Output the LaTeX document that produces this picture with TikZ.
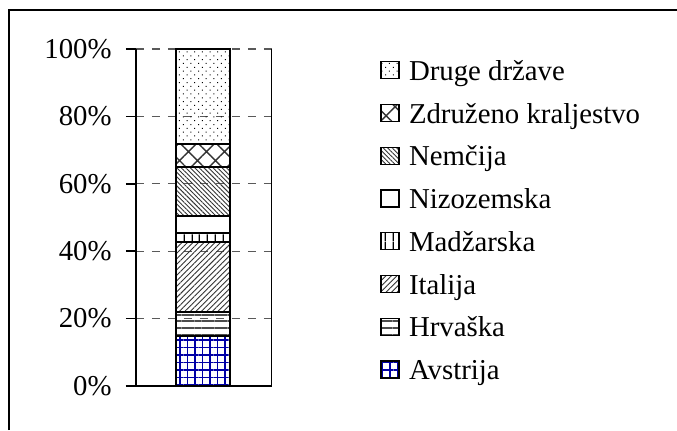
\documentclass[tikz,border=0pt]{standalone}
\usepackage{fontspec}
\setmainfont{Liberation Serif}
\usetikzlibrary{patterns.meta}

\begin{document}
\begin{tikzpicture}[x=0.5pt,y=-0.5pt,
  lbl/.style={font=\fontsize{14.4}{16}\selectfont,inner sep=0pt},
  seg/.style={draw=black,line width=0.9pt},
  key/.style={draw=black,line width=0.6pt,minimum width=9pt,minimum height=8.5pt,inner sep=0pt},
  gridline/.style={black!65,line width=0.55pt,dash pattern=on 4pt off 4pt},
  avstrija/.style={fill=blue!6,pattern={Hatch[angle=0,distance=3.75pt,line width=0.6pt]},pattern color=blue!65!black},
  hrvaska/.style={pattern={Lines[angle=0,distance=3.3pt,line width=0.9pt,yshift=1.6pt]},pattern color=black!70},
  italija/.style={pattern={Lines[angle=45,distance=1.95pt,line width=0.45pt]},pattern color=black!80},
  madzarska/.style={pattern={Lines[angle=90,distance=3.85pt,line width=0.7pt]},pattern color=black},
  nizozemska/.style={fill=white},
  nemcija/.style={pattern={Lines[angle=-45,distance=1.6pt,line width=0.45pt]},pattern color=black!80},
  zdruzeno/.style={pattern={Hatch[angle=45,distance=6.35pt,line width=0.7pt]},pattern color=black!80},
  druge/.style={pattern={Dots[angle=45,distance=2.7pt,radius=0.35pt]},pattern color=black}]
\useasboundingbox (0,0) rectangle (677,430);
% frame
\draw[line width=1pt] (9,430) -- (9,9.5) -- (677,9.5);
% grid and axes
\foreach \v in {20,40,...,100}
  \draw[gridline] (136,{386-3.37*\v}) -- (272,{386-3.37*\v});
\foreach \v in {0,20,...,100} {
  \node[lbl,anchor=east] (y\v) at (112,{386-3.37*\v}) {\v\%};
  \draw[line width=0.8pt] (126,{386-3.37*\v}) -- (136,{386-3.37*\v});
}
\coordinate (o) at (136,386);
\draw[line width=0.5pt] (272,49) -- (272,386);
\draw[line width=0.8pt] (126,386) -- (272,386);
\draw[line width=1pt] (136,49) -- (o);
% stacked bar
\foreach \lo/\hi/\sty in {0/14.8/avstrija,14.8/21.96/hrvaska,21.96/42.8/italija,42.8/45.5/madzarska,
  45.5/50.4/nizozemska,50.4/64.9/nemcija,64.9/71.7/zdruzeno,71.7/100/druge}
  \draw[seg,\sty] (176,{386-3.37*\lo}) rectangle (230,{386-3.37*\hi});
% legend
\foreach \name/\sty [count=\i] in {Druge države/druge,Združeno kraljestvo/zdruzeno,Nemčija/nemcija,
  Nizozemska/nizozemska,Madžarska/madzarska,Italija/italija,Hrvaška/hrvaska,Avstrija/avstrija} {
  \node[key,\sty] (key\i) at (390,{70.3+42.75*(\i-1)}) {};
  \node[lbl,anchor=base west] (name\i) at ([xshift=4.5pt,yshift=-5pt]key\i.east) {\name};
}
\end{tikzpicture}
\end{document}
